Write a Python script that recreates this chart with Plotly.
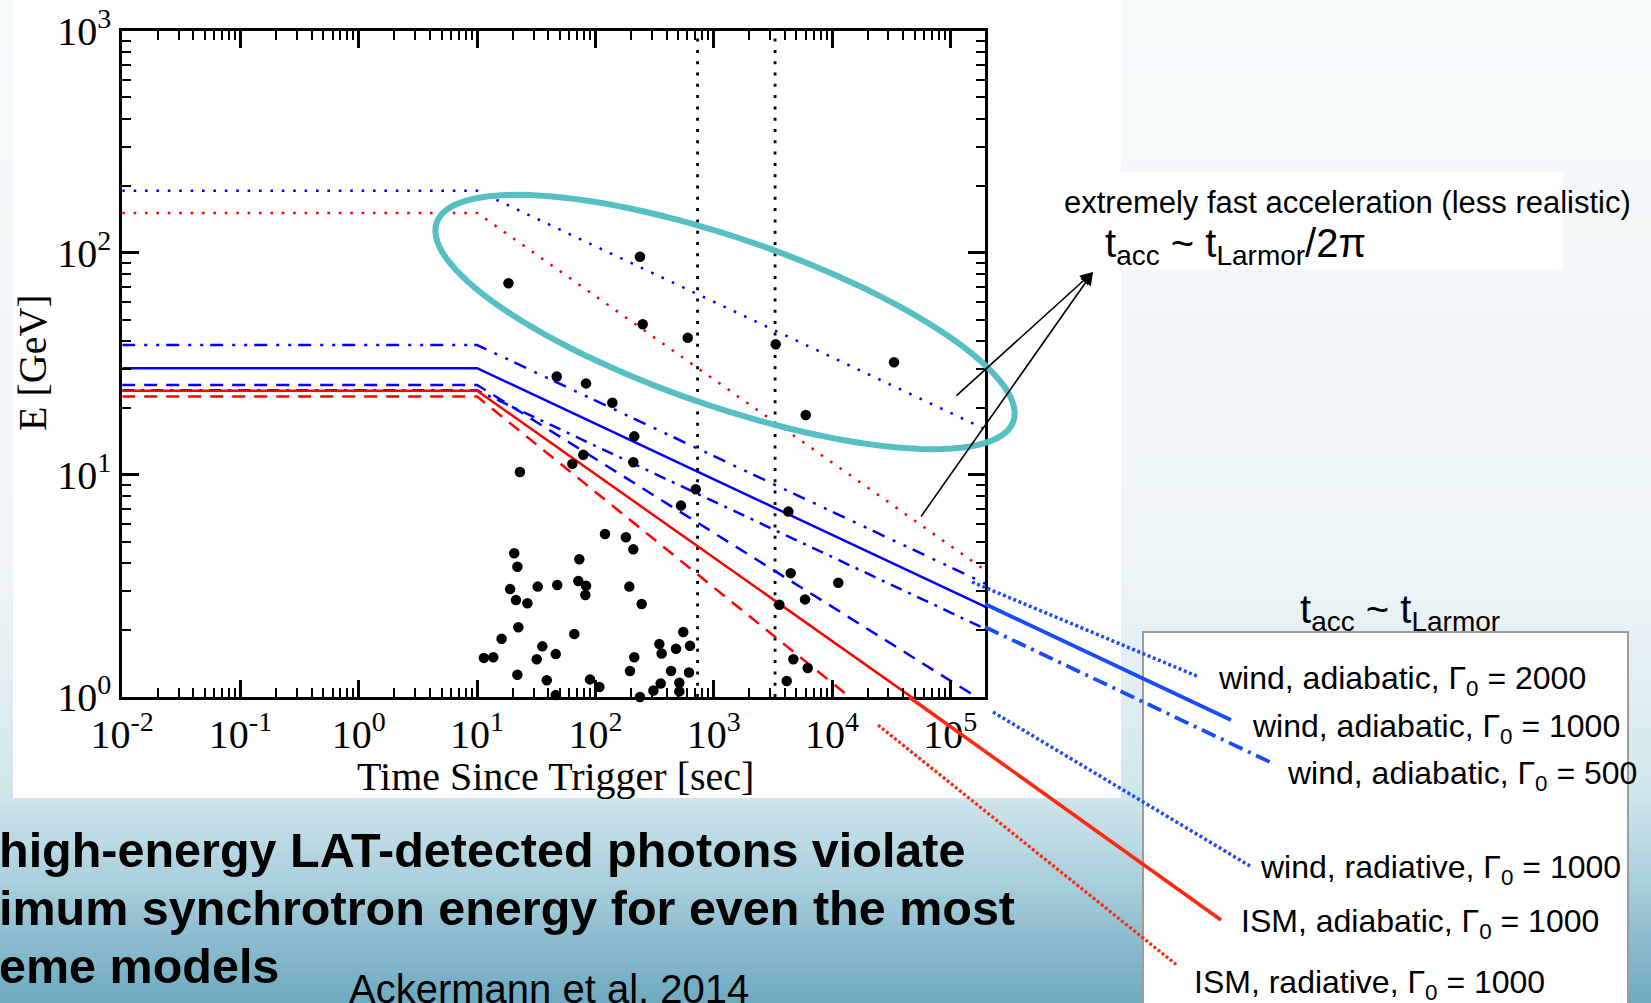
import math
import plotly.graph_objects as go

W, H = 1651, 1003

# ------------------------------------------------------------------ data
photon_t = [238, 18.4, 251, 603, 3342, 33420, 5995, 47.1, 83.3, 139,
            213, 79.0, 209, 63.8, 23.0, 705, 529, 4273, 120.5, 181,
            209, 20.6, 21.9, 73.1, 4477, 11300, 19.0, 32.5, 47.6, 71.7,
            83.3, 82.2, 21.3, 26.6, 193.5, 246, 5915, 3586, 22.3, 16.1,
            66.3, 11.4, 13.7, 35.6, 31.9, 46.2, 21.9, 38.8, 46.2, 90.0,
            108, 196, 213, 238, 347, 363, 480, 553, 630, 436,
            618, 356, 309, 512, 512, 4710, 6230, 4140]
photon_E = [95.9, 72.8, 47.6, 41.4, 38.7, 32.1, 18.6, 27.7, 25.8, 21.1,
            14.9, 12.3, 11.4, 11.2, 10.3, 8.61, 7.27, 6.83, 5.42, 5.24,
            4.62, 4.44, 3.86, 4.17, 3.61, 3.27, 3.06, 3.14, 3.19, 3.33,
            3.17, 2.88, 2.73, 2.64, 3.14, 2.62, 2.75, 2.60, 2.06, 1.83,
            1.92, 1.50, 1.51, 1.69, 1.48, 1.56, 1.26, 1.19, 1.02, 1.20,
            1.11, 1.31, 1.51, 1.00, 1.73, 1.57, 1.65, 1.96, 1.70, 1.31,
            1.29, 1.15, 1.07, 1.16, 1.06, 1.48, 1.35, 1.18]

model_t = [0.01, 10, 2.0e5]
E_fast_wind_ad_1000 = [190, 190, 16.0]
E_fast_ism_ad_1000 = [151, 151, 3.7]
E_wind_ad_2000 = [38.4, 38.4, 3.23]
E_wind_ad_1000 = [30.2, 30.2, 2.54]
E_wind_ad_500 = [24.0, 24.0, 2.02]
E_wind_rad_1000 = [25.4, 25.4, 0.94]
E_ism_ad_1000 = [23.9, 23.9, 0.58]
E_ism_rad_1000 = [22.5, 22.5, 0.32]

vline_t = [730, 3300]
vline_E = [1, 1000]

x_tick_vals = [0.01, 0.1, 1, 10, 100, 1e3, 1e4, 1e5]
x_tick_text = ["10<sup>-2</sup>", "10<sup>-1</sup>", "10<sup>0</sup>", "10<sup>1</sup>",
               "10<sup>2</sup>", "10<sup>3</sup>", "10<sup>4</sup>", "10<sup>5</sup>"]
y_tick_vals = [1, 10, 100, 1000]
y_tick_text = ["10<sup>0</sup>", "10<sup>1</sup>", "10<sup>2</sup>", "10<sup>3</sup>"]

x_title = "Time Since Trigger [sec]"
y_title = "E [GeV]"

legend_title = "t<sub>acc</sub> ~ t<sub>Larmor</sub>"
legend_labels = ["wind, adiabatic, Γ<sub>0</sub> = 2000",
                 "wind, adiabatic, Γ<sub>0</sub> = 1000",
                 "wind, adiabatic, Γ<sub>0</sub> = 500",
                 "wind, radiative, Γ<sub>0</sub> = 1000",
                 "ISM, adiabatic, Γ<sub>0</sub> = 1000",
                 "ISM, radiative, Γ<sub>0</sub> = 1000"]
fast_note = "extremely fast acceleration (less realistic)"
fast_formula = "t<sub>acc</sub> ~ t<sub>Larmor</sub>/2π"
bold_lines = ["high-energy LAT-detected photons violate",
              "imum synchrotron energy for even the most",
              "eme models"]
citation = "Ackermann et al. 2014"

# minor tick positions (2..9 per decade)
minor_x = [m * 10.0 ** d for d in range(-2, 6) for m in range(2, 10)]
minor_y = [m * 10.0 ** d for d in range(0, 3) for m in range(2, 10)]


def px(X):
    return X / W


def py(Y):
    return 1 - Y / H


BLUE = "rgb(0,0,255)"
RED = "rgb(255,0,0)"
CBLUE = "rgb(25,75,255)"
CRED = "rgb(255,40,15)"

fig = go.Figure()

# vertical dotted lines
for tv in vline_t:
    fig.add_trace(go.Scatter(x=[tv, tv], y=vline_E, mode="lines",
                             line=dict(color="black", width=2.8, dash="3px,8.3px"),
                             hoverinfo="skip", showlegend=False))

models = [
    (E_fast_wind_ad_1000, BLUE, "2.6px,8.8px"),
    (E_fast_ism_ad_1000, RED, "2.6px,8.8px"),
    (E_wind_ad_2000, BLUE, "13px,9px,3px,9px,3px,7px"),
    (E_wind_ad_1000, BLUE, "solid"),
    (E_wind_ad_500, BLUE, "12px,7px,3px,7px"),
    (E_wind_rad_1000, BLUE, "13px,9px"),
    (E_ism_ad_1000, RED, "solid"),
    (E_ism_rad_1000, RED, "13px,9px"),
]
for Ev, c, d in models:
    fig.add_trace(go.Scatter(x=model_t, y=Ev, mode="lines",
                             line=dict(color=c, width=2.5, dash=d),
                             hoverinfo="skip", showlegend=False))

fig.add_trace(go.Scatter(x=photon_t, y=photon_E, mode="markers",
                         marker=dict(color="black", size=10.5),
                         cliponaxis=False, showlegend=False))

# ------------------------------------------------------------------ shapes
shapes = []
stops = [(0, (246, 250, 251)), (550, (238, 245, 247)), (700, (224, 238, 243)),
         (800, (206, 229, 236)), (880, (170, 207, 220)), (1003, (110, 170, 192))]


def col_at(Y):
    for (y0, c0), (y1, c1) in zip(stops[:-1], stops[1:]):
        if y0 <= Y <= y1:
            f = (Y - y0) / (y1 - y0)
            return "rgb(%d,%d,%d)" % tuple(round(a + (b - a) * f) for a, b in zip(c0, c1))
    return "rgb(%d,%d,%d)" % stops[-1][1]


nb = 100
for i in range(nb):
    y0 = i * H / nb
    y1 = (i + 1) * H / nb + 1
    shapes.append(dict(type="rect", xref="paper", yref="paper", x0=0, x1=1,
                       y0=py(y1), y1=py(y0), fillcolor=col_at((y0 + y1) / 2),
                       line=dict(width=0), layer="below"))

# white figure area and note box
shapes.append(dict(type="rect", xref="paper", yref="paper", x0=px(13), x1=px(1121),
                   y0=py(798), y1=py(0), fillcolor="white", line=dict(width=0), layer="below"))
shapes.append(dict(type="rect", xref="paper", yref="paper", x0=px(1120), x1=px(1563),
                   y0=py(270), y1=py(172), fillcolor="white", line=dict(width=0), layer="below"))
# legend box
shapes.append(dict(type="rect", xref="paper", yref="paper", x0=px(1143), x1=px(1628),
                   y0=py(1012), y1=py(632), fillcolor="white",
                   line=dict(color="#9c9c9c", width=2), layer="below"))

# connector lines to the labels
connectors = [
    ((972, 582), (1199, 677), CBLUE, "3px,2.6px", 3.5),
    ((985, 604), (1231, 720), CBLUE, "solid", 3.8),
    ((985, 627), (1272, 763), CBLUE, "15px,6px,3px,6px", 3.8),
    ((993, 712), (1250, 866), CBLUE, "3px,2.6px", 3.5),
    ((909, 697), (1221, 920), CRED, "solid", 3.5),
    ((878, 725), (1178, 966), CRED, "3px,2.2px", 3.2),
]
for (xa, ya), (xb, yb), c, d, w in connectors:
    shapes.append(dict(type="line", xref="paper", yref="paper",
                       x0=px(xa), y0=py(ya), x1=px(xb), y1=py(yb),
                       line=dict(color=c, width=w, dash=d), layer="above"))

# ellipse around the fast-acceleration curves
cx, cy, ea, eb, th = 725, 322, 305, 84, math.radians(19)
pts = []
for k in range(121):
    s = 2 * math.pi * k / 120
    X = cx + ea * math.cos(s) * math.cos(th) - eb * math.sin(s) * math.sin(th)
    Y = cy + ea * math.cos(s) * math.sin(th) + eb * math.sin(s) * math.cos(th)
    pts.append("%.5f,%.5f" % (px(X), py(Y)))
path = "M" + " L".join(pts) + " Z"
shapes.append(dict(type="path", xref="paper", yref="paper", path=path,
                   line=dict(color="#55bfc1", width=6), layer="above"))

# ------------------------------------------------------------------ annotations
ann = []
SERIF = "Liberation Serif"
SANS = "Liberation Sans"

ann.append(dict(text=x_title, xref="paper", yref="paper", x=px(555), y=py(776),
                xanchor="center", yanchor="middle", showarrow=False,
                font=dict(family=SERIF, size=40, color="black")))
ann.append(dict(text=y_title, xref="paper", yref="paper", x=px(32), y=py(363),
                xanchor="center", yanchor="middle", showarrow=False, textangle=-90,
                font=dict(family=SERIF, size=40, color="black")))

label_pos = [(1216, 680), (1250, 728), (1285, 775), (1258, 869), (1239, 923), (1192, 984)]
for txt, (lx, ly) in zip(legend_labels, label_pos):
    ann.append(dict(text=txt, xref="paper", yref="paper", x=px(lx), y=py(ly),
                    xanchor="left", yanchor="middle", showarrow=False,
                    font=dict(family=SANS, size=32, color="black")))

ann.append(dict(text=legend_title, xref="paper", yref="paper", x=px(1298), y=py(612),
                xanchor="left", yanchor="middle", showarrow=False,
                font=dict(family=SANS, size=40, color="black")))
ann.append(dict(text=fast_note, xref="paper", yref="paper", x=px(1062), y=py(202),
                xanchor="left", yanchor="middle", showarrow=False,
                font=dict(family=SANS, size=31, color="black")))
ann.append(dict(text=fast_formula, xref="paper", yref="paper", x=px(1103), y=py(246),
                xanchor="left", yanchor="middle", showarrow=False,
                font=dict(family=SANS, size=40, color="black")))

for txt, ly in zip(bold_lines, [850, 908, 966]):
    ann.append(dict(text="<b>" + txt + "</b>", xref="paper", yref="paper", x=px(-3), y=py(ly),
                    xanchor="left", yanchor="middle", showarrow=False,
                    font=dict(family=SANS, size=48.5, color="black")))
ann.append(dict(text=citation, xref="paper", yref="paper", x=px(347), y=py(989),
                xanchor="left", yanchor="middle", showarrow=False,
                font=dict(family=SANS, size=40, color="black")))

# arrows
tip = (1093, 272)
for tail in [(955, 397), (920, 518)]:
    ann.append(dict(text="", xref="paper", yref="paper", x=px(tip[0]), y=py(tip[1]),
                    ax=tail[0] - tip[0], ay=tail[1] - tip[1],
                    showarrow=True, arrowhead=2, arrowsize=1.6, arrowwidth=1.6,
                    arrowcolor="black", standoff=0))

axis_common = dict(showline=True, linecolor="black", linewidth=3, mirror="allticks",
                   ticks="inside", tickwidth=2.5, tickcolor="black", showgrid=False,
                   zeroline=False, tickmode="array", automargin=False,
                   tickfont=dict(family=SERIF, size=40, color="black"))

fig.update_layout(
    width=W, height=H,
    margin=dict(l=0, r=0, t=0, b=0),
    paper_bgcolor="white", plot_bgcolor="rgba(0,0,0,0)",
    showlegend=False,
    xaxis=dict(type="log", range=[-2, 5.293], domain=[px(122.2), px(985)],
               tickvals=x_tick_vals, ticktext=x_tick_text, ticklen=17,
               minor=dict(ticks="inside", ticklen=9, tickwidth=2, tickcolor="black",
                          tickmode="array", tickvals=minor_x, showgrid=False),
               **axis_common),
    yaxis=dict(type="log", range=[0, 3], domain=[py(697), py(30.5)],
               tickvals=y_tick_vals, ticktext=y_tick_text, ticklen=17,
               minor=dict(ticks="inside", ticklen=9, tickwidth=2, tickcolor="black",
                          tickmode="array", tickvals=minor_y, showgrid=False),
               **axis_common),
    shapes=shapes,
    annotations=ann,
)

fig.write_html("out.html")
